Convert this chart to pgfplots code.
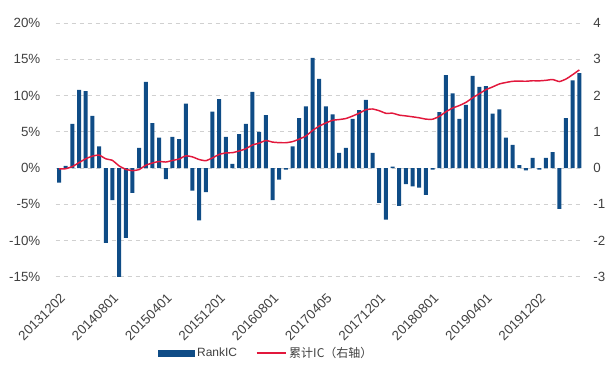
\documentclass[border=0pt]{standalone}
\usepackage{pgfplots}
\pgfplotsset{compat=1.18}
\usepackage{pgfplotstable}
\usepackage{fontspec}
\setmainfont{Liberation Sans}
\newfontfamily\cjk{Noto Sans CJK SC}
\definecolor{barblue}{HTML}{0F4C86}
\definecolor{linered}{HTML}{E2183C}
\definecolor{gridgray}{HTML}{D0D0D0}
\definecolor{txt}{HTML}{404040}

\pgfplotstableread{
x ic cum
0 -2.0 -0.020
1 0.3 -0.017
2 6.1 0.044
3 10.8 0.152
4 10.6 0.258
5 7.2 0.330
6 3.0 0.360
7 -10.3 0.257
8 -4.4 0.213
9 -15.1 0.062
10 -9.6 -0.034
11 -3.4 -0.068
12 2.8 -0.040
13 11.9 0.079
14 6.2 0.141
15 4.2 0.183
16 -1.5 0.168
17 4.3 0.211
18 4.0 0.251
19 8.9 0.340
20 -3.1 0.309
21 -7.2 0.237
22 -3.3 0.204
23 7.8 0.282
24 9.5 0.377
25 4.3 0.420
26 0.6 0.426
27 4.7 0.473
28 6.1 0.534
29 10.5 0.639
30 5.0 0.689
31 7.3 0.762
32 -4.4 0.718
33 -1.6 0.702
34 -0.2 0.700
35 3.0 0.730
36 6.9 0.799
37 8.5 0.884
38 15.2 1.036
39 12.3 1.159
40 8.5 1.244
41 7.4 1.318
42 2.1 1.339
43 2.8 1.367
44 6.8 1.435
45 8.0 1.515
46 9.4 1.609
47 2.1 1.630
48 -4.8 1.582
49 -7.1 1.511
50 0.2 1.513
51 -5.2 1.461
52 -2.2 1.439
53 -2.5 1.414
54 -2.7 1.387
55 -3.7 1.350
56 -0.2 1.348
57 7.7 1.425
58 12.8 1.553
59 10.3 1.656
60 6.8 1.724
61 8.7 1.811
62 12.7 1.938
63 11.2 2.050
64 11.3 2.163
65 7.5 2.238
66 8.1 2.319
67 4.2 2.361
68 3.2 2.393
69 0.4 2.397
70 -0.3 2.394
71 1.4 2.408
72 -0.2 2.406
73 1.4 2.420
74 2.2 2.442
75 -5.6 2.386
76 6.9 2.455
77 12.1 2.576
78 13.1 2.707
}\data

\begin{document}
\begin{tikzpicture}
\path[use as bounding box] (-41.8pt,-78pt) rectangle (419.5pt,207.75pt);
\begin{axis}[
  scale only axis, width=395.25pt, height=190.5pt,
  xmin=-0.5, xmax=78.5, ymin=-15, ymax=20,
  ytick={-15,-10,...,20},
  yticklabels={-15\%,-10\%,-5\%,0\%,5\%,10\%,15\%,20\%},
  xtick={0,8,...,72},
  xticklabels={20131202,20140801,20150401,20151201,20160801,20170405,20171201,20180801,20190401,20191202},
  axis line style={draw=none},
  major tick length=0pt,
  ymajorgrids,
  grid style={gridgray, line width=0.7pt, dash pattern=on 3pt off 3pt},
  tick label style={font=\fontsize{10}{11}\selectfont, text=txt},
  yticklabel style={xshift=-8pt},
  xticklabel style={rotate=45, anchor=east, inner sep=1pt, xshift=-7pt, yshift=-12pt},
]
\addplot[ybar, bar width=0.6, fill=barblue, draw=none] table[x=x,y=ic]{\data};
\end{axis}
\begin{axis}[
  scale only axis, width=395.25pt, height=190.5pt,
  xmin=-0.5, xmax=78.5, ymin=-3, ymax=4,
  axis y line*=right, axis x line=none,
  axis line style={draw=none},
  major tick length=0pt,
  ytick={-3,-2,...,4},
  yticklabels={-3,-2,-1,0,1,2,3,4},
  tick label style={font=\fontsize{10}{11}\selectfont, text=txt},
  yticklabel style={xshift=4.5pt},
  legend style={at={(0.40,-0.30)}, anchor=center, draw=none, fill=none,
    font=\fontsize{9}{10}\selectfont, text=txt,
    /tikz/every even column/.append style={column sep=12pt}},
  legend columns=2,
]
\addlegendimage{legend image code/.code={\fill[barblue] (0pt,-2.5pt) rectangle (27pt,2.5pt);}}
\addlegendentry{RankIC}
\addplot[linered, line width=1.1pt, smooth, tension=0.3,
  legend image code/.code={\draw[linered, line width=1.1pt] (0pt,0pt) -- (22pt,0pt);}]
  table[x=x,y=cum]{\data};
\addlegendentry{\cjk 累计IC（右轴）}
\end{axis}
\end{tikzpicture}
\end{document}
